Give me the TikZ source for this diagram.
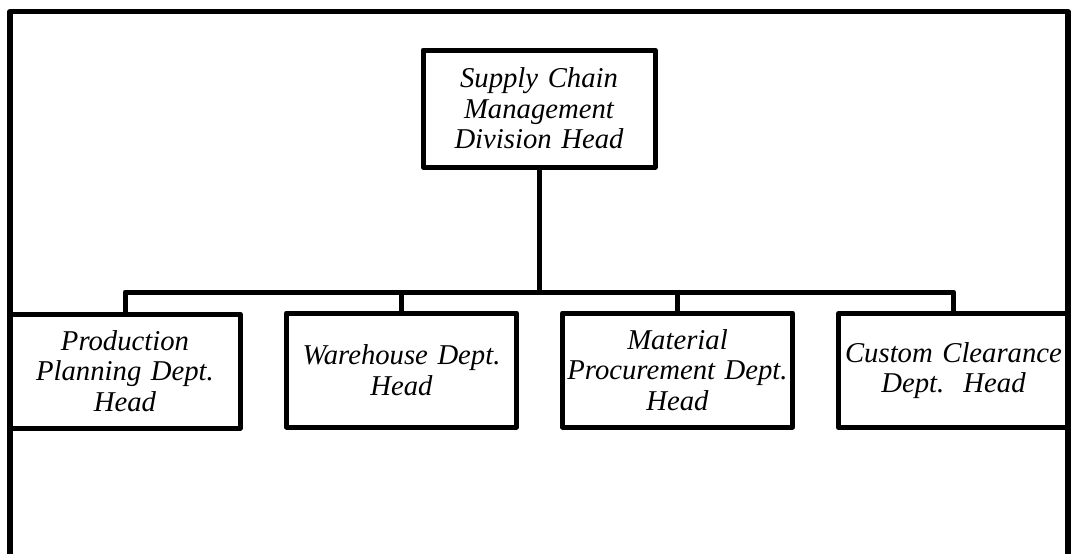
\documentclass[tikz,border=0pt]{standalone}
\usepackage{fontspec}
\setmainfont{Liberation Serif}
\begin{document}
\begin{tikzpicture}[x=1pt,y=-1pt,
  line width=5pt, line join=round,
  orgbox/.style={draw, line width=5pt, inner sep=0pt, align=center,
    text width=224pt, minimum width=230pt, minimum height=114pt,
    font=\fontsize{28.7}{30.5}\selectfont\itshape},
  link/.style={draw, line width=5pt}]
\useasboundingbox (0,0) rectangle (1071,554);
% outer frame (open at the bottom)
\draw[line width=5.4pt] (10,556) -- (10,11.5) -- (1068,11.5) -- (1068,556);
% boxes
\node[orgbox, minimum width=232pt, minimum height=117pt] (top) at (539,108.5) {Supply Chain\\Management\\Division Head};
\node[orgbox] (b1) at (125,371) {Production\\Planning Dept.\\Head};
\node[orgbox] (b2) at (401.5,370) {Warehouse Dept.\\Head};
\node[orgbox] (b3) at (677.5,370) {Material\\Procurement Dept.\\Head};
\node[orgbox] (b4) at (953.5,370.5) {Custom Clearance\\Dept.\ \ Head};
% connectors
\coordinate (bus) at (539,292);
\draw[link] (top.south) -- (bus);
\draw[link] (b1.north) -- (b1.north |- bus) -- (b4.north |- bus) -- (b4.north);
\draw[link] (b2.north) -- (b2.north |- bus);
\draw[link] (b3.north) -- (b3.north |- bus);
\end{tikzpicture}
\end{document}
